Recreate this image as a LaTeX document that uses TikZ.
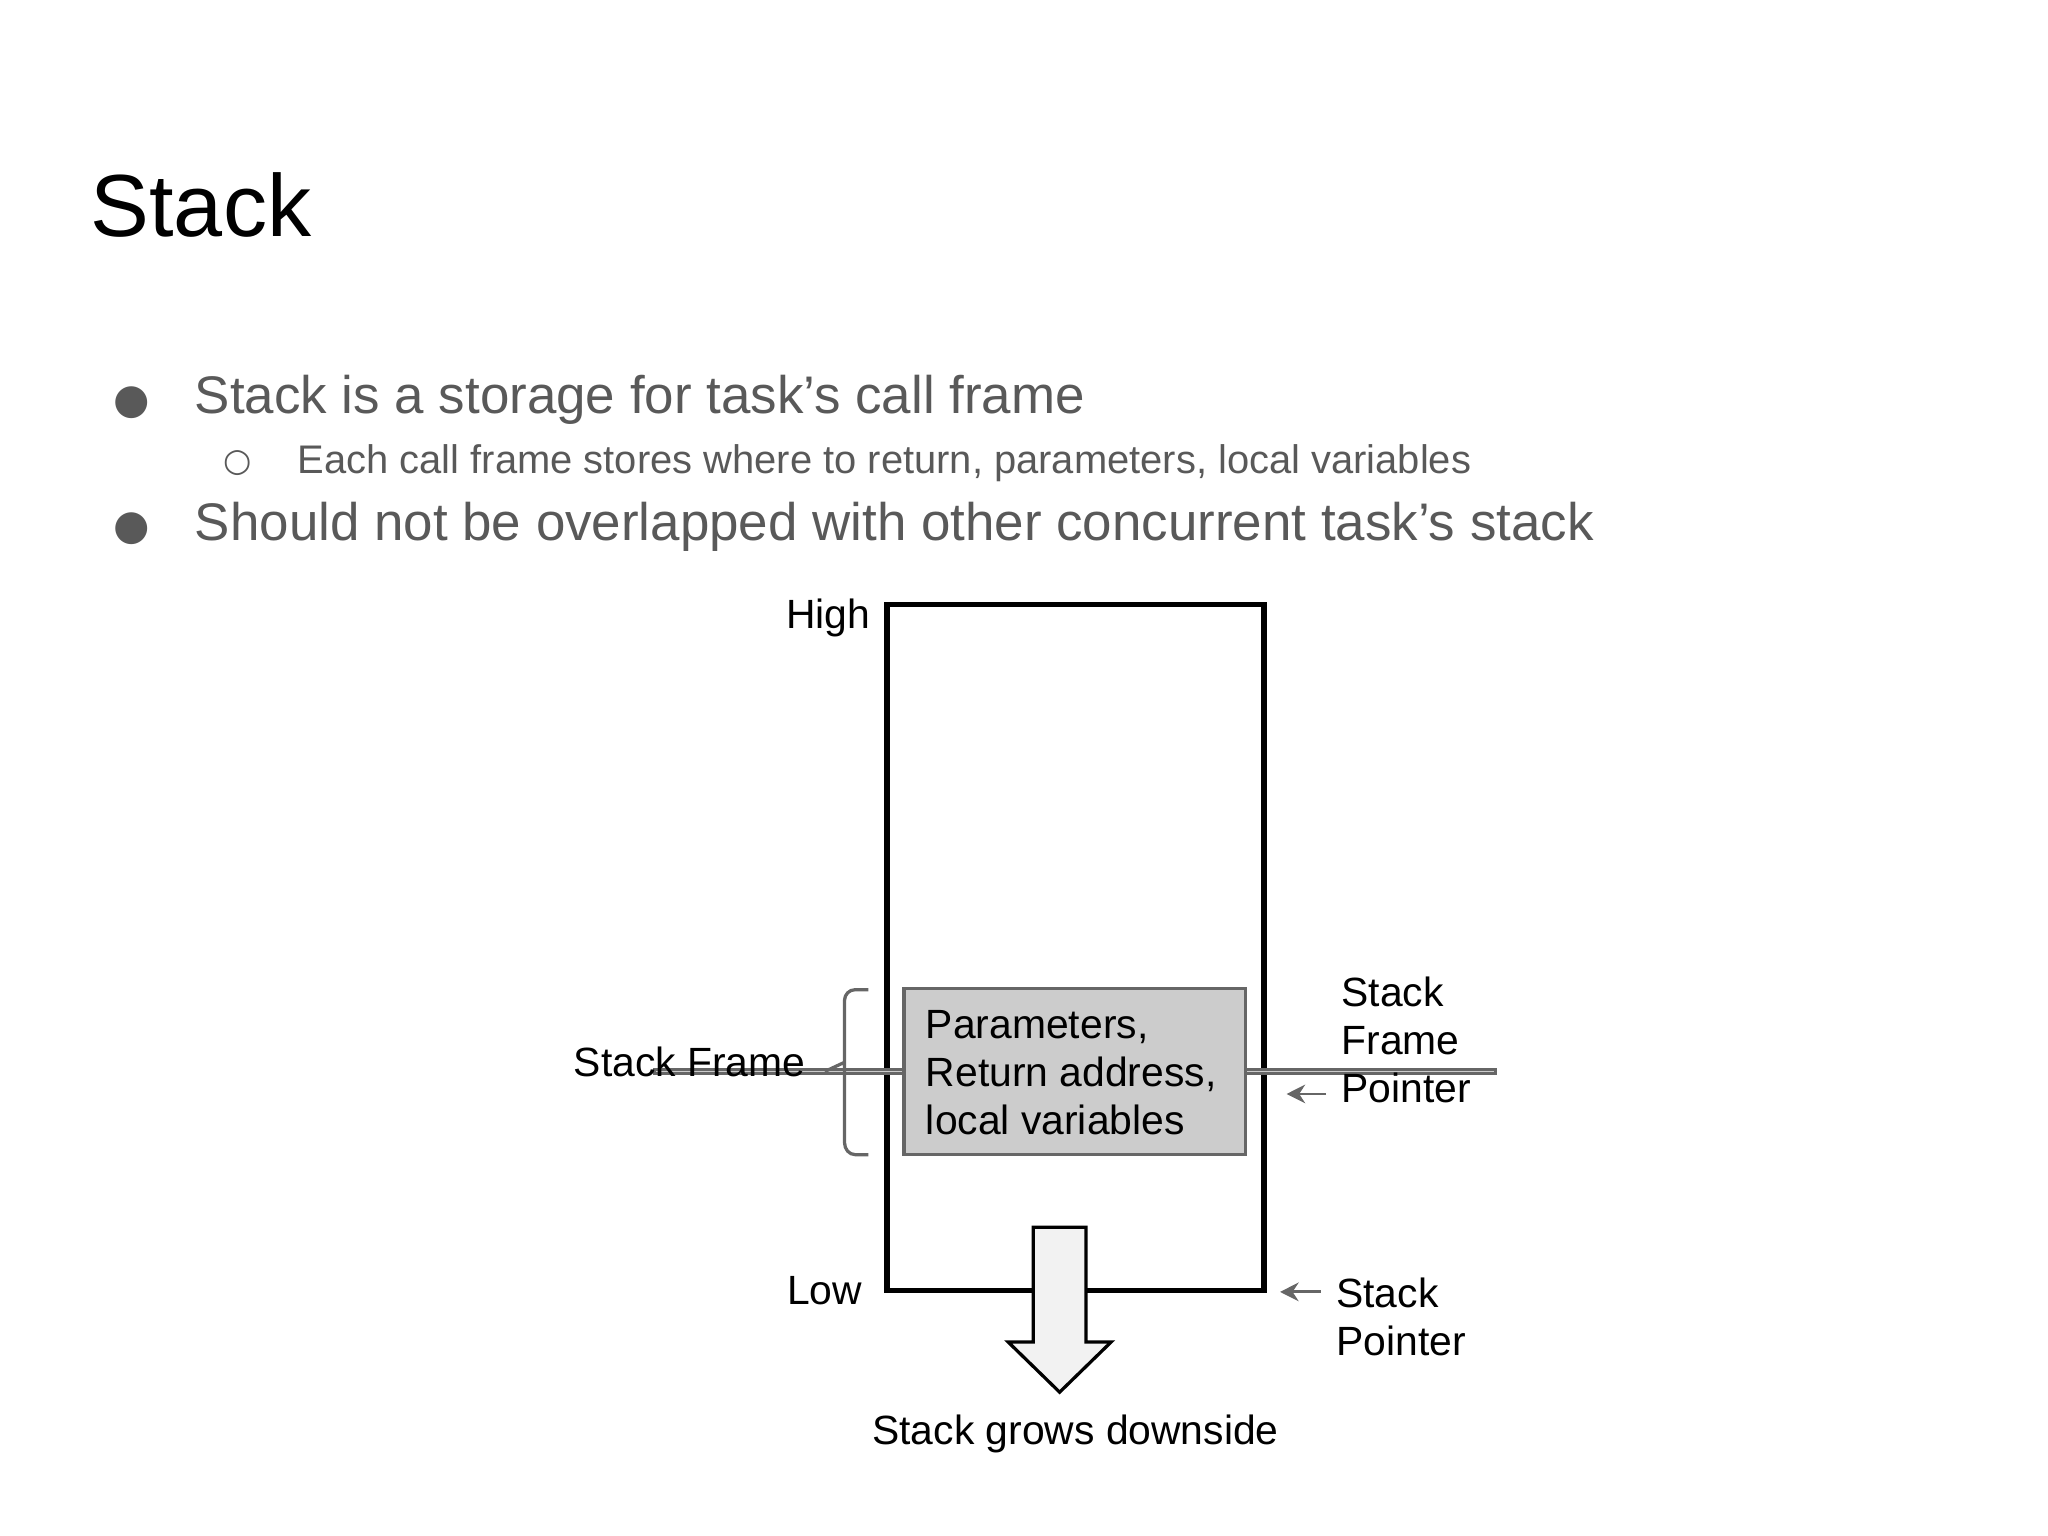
\documentclass[tikz,border=0pt]{standalone}
\usepackage{fontspec}
\setmainfont{Liberation Sans}
\newfontfamily\symf{DejaVu Sans}
\usetikzlibrary{decorations.pathreplacing}
\definecolor{txtgray}{HTML}{595959}
\tikzset{lbl/.style={font=\fontsize{8.8pt}{10.4pt}\selectfont, inner sep=0pt, align=left},
 ptr/.style={draw=black!60, line width=0.6pt, -{Stealth[length=4pt,width=4pt]}},
 blt/.style={font=\fontsize{11.4pt}{13pt}\selectfont, text=txtgray, inner sep=0pt, anchor=west}}
\usetikzlibrary{arrows.meta}
\begin{document}
\begin{tikzpicture}[x=0.01cm,y=-0.01cm]
\useasboundingbox (0,0) rectangle (1552,1164);
\node[font=\fontsize{19pt}{22pt}\selectfont, inner sep=0pt, anchor=west] (title) at (68,155) {Stack};
\node[blt, text=txtgray, font=\symf\fontsize{9pt}{10pt}\selectfont] (b1) at (85,305) {●};
\node[blt] (t1) at (147,303) {Stack is a storage for task’s call frame};
\node[blt, font=\symf\fontsize{7pt}{10pt}\selectfont] (b2) at (169,351) {○};
\node[blt, font=\fontsize{8.6pt}{10pt}\selectfont] (t2) at (225,351) {Each call frame stores where to return, parameters, local variables};
\node[blt, text=txtgray, font=\symf\fontsize{9pt}{10pt}\selectfont] (b3) at (85,401) {●};
\node[blt] (t3) at (147,399) {Should not be overlapped with other concurrent task’s stack};
% stack
\draw[line width=1.2pt] (672,458) rectangle (958,978);
\node[draw=black!60, line width=0.7pt, fill=black!20, minimum width=259\pgflinewidth, inner sep=0pt] (frame) at (814.5,812) {};
\draw[draw=black!60, line width=0.7pt, fill=black!20] (685,749) rectangle (944,875);
\node[lbl, anchor=west] (ftext) at (701,813) {Parameters,\\Return address,\\local variables};
\node[lbl, anchor=east] (high) at (660,468) {High};
\node[lbl, anchor=east] (low) at (654,978) {Low};
% brace
\draw[black!60, line width=0.7pt] (658,750) -- (648,750) to[out=180,in=90] (640,758) -- (640,805) -- (625,812) (640,805) -- (640,866) to[out=-90,in=180] (648,875) -- (658,875);
\node[lbl, anchor=east] (sf) at (611,805) {Stack Frame};
% grow arrow
\draw[line width=0.7pt, fill=black!5] (783,930) -- (823,930) -- (823,1017) -- (842,1017) -- (803,1055) -- (764,1017) -- (783,1017) -- cycle;
\node[lbl, anchor=center] (grow) at (815,1087) {Stack grows downside};
% pointers
\node[lbl, anchor=west] (sfp) at (1016,788) {Stack\\Frame\\Pointer};
\coordinate (sfpt) at (975,829);
\draw[ptr] (1005,829) -- (sfpt);
\node[lbl, anchor=west] (sp) at (1012,998) {Stack\\Pointer};
\coordinate (spt) at (970,979);
\draw[ptr] (1001,979) -- (spt);
\end{tikzpicture}
\end{document}
